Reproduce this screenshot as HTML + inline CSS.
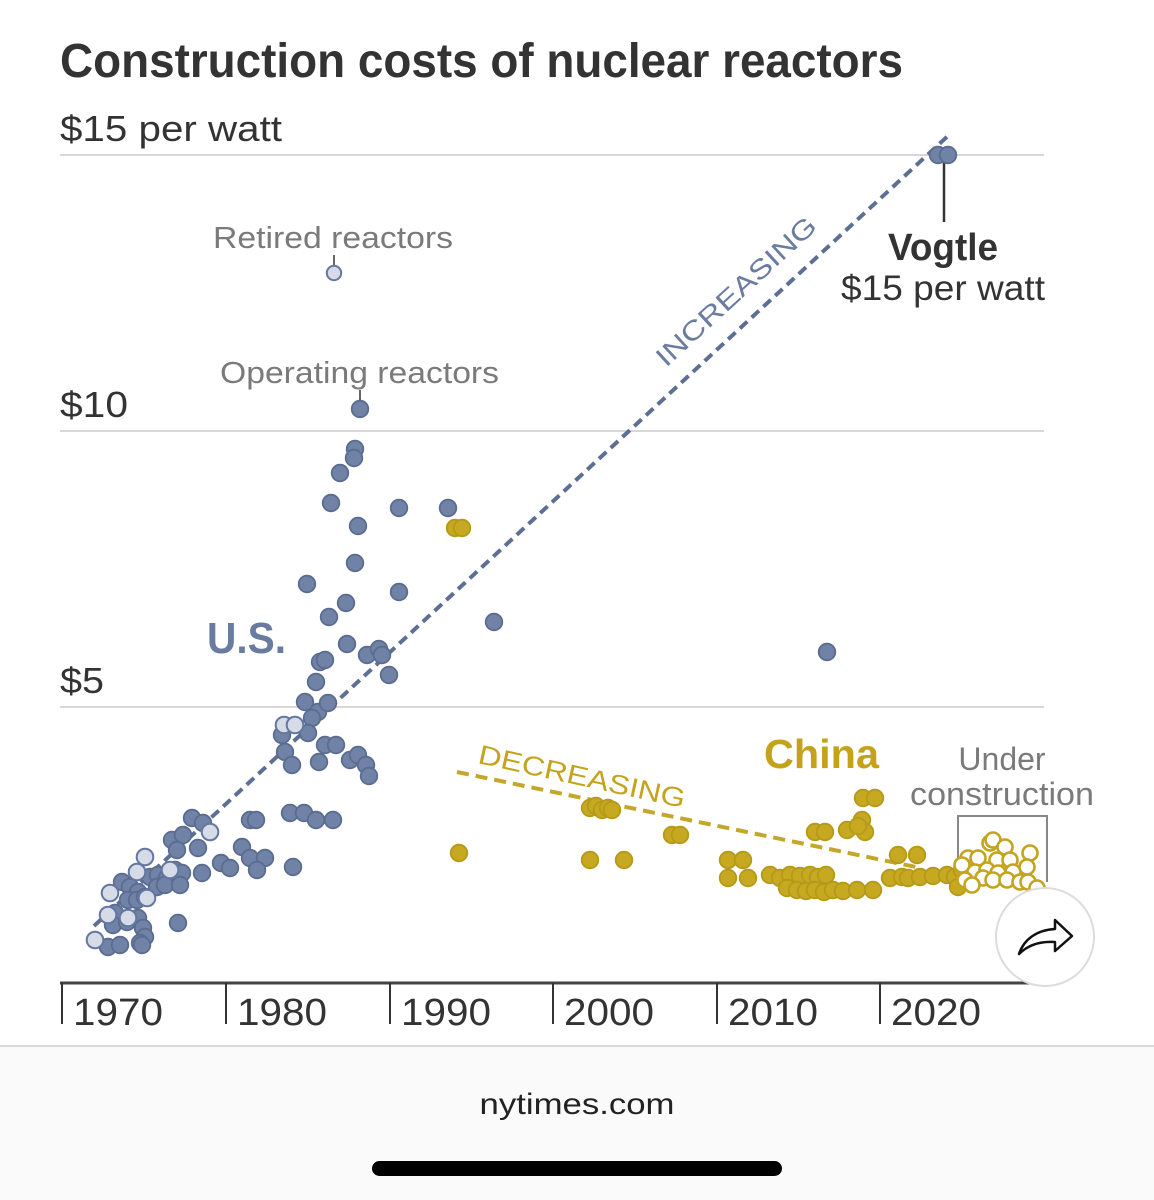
<!DOCTYPE html>
<html><head><meta charset="utf-8"><style>
html,body{margin:0;padding:0;background:#fff;}
svg{display:block;}
text{font-family:"Liberation Sans",Arial,sans-serif;}
</style></head><body>
<svg width="1154" height="1200" viewBox="0 0 1154 1200" xmlns="http://www.w3.org/2000/svg">
<rect x="0" y="0" width="1154" height="1200" fill="#fff"/>
<rect x="0" y="1046" width="1154" height="154" fill="#fafafa"/>
<line x1="0" y1="1046" x2="1154" y2="1046" stroke="#d9d9d9" stroke-width="2"/>

<text x="60" y="77" font-size="48" font-weight="bold" fill="#333" textLength="843" lengthAdjust="spacingAndGlyphs">Construction costs of nuclear reactors</text>

<g stroke="#d8d8d8" stroke-width="2">
<line x1="60" y1="155" x2="1044" y2="155"/>
<line x1="60" y1="431" x2="1044" y2="431"/>
<line x1="60" y1="707" x2="1044" y2="707"/>
</g>
<g fill="#333" font-size="36">
<text x="60" y="141" textLength="222" lengthAdjust="spacingAndGlyphs">$15 per watt</text>
<text x="60" y="417" textLength="68" lengthAdjust="spacingAndGlyphs">$10</text>
<text x="60" y="693" textLength="44" lengthAdjust="spacingAndGlyphs">$5</text>
</g>

<line x1="60" y1="983" x2="1040" y2="983" stroke="#444" stroke-width="3"/>
<g stroke="#333" stroke-width="2">
<line x1="62" y1="983" x2="62" y2="1024"/>
<line x1="226" y1="983" x2="226" y2="1024"/>
<line x1="390" y1="983" x2="390" y2="1024"/>
<line x1="553" y1="983" x2="553" y2="1024"/>
<line x1="717" y1="983" x2="717" y2="1024"/>
<line x1="880" y1="983" x2="880" y2="1024"/>
</g>
<g fill="#333" font-size="38">
<text x="73" y="1025" textLength="90" lengthAdjust="spacingAndGlyphs">1970</text>
<text x="237" y="1025" textLength="90" lengthAdjust="spacingAndGlyphs">1980</text>
<text x="401" y="1025" textLength="90" lengthAdjust="spacingAndGlyphs">1990</text>
<text x="564" y="1025" textLength="90" lengthAdjust="spacingAndGlyphs">2000</text>
<text x="728" y="1025" textLength="90" lengthAdjust="spacingAndGlyphs">2010</text>
<text x="891" y="1025" textLength="90" lengthAdjust="spacingAndGlyphs">2020</text>
</g>

<line x1="94" y1="926" x2="950" y2="134" stroke="#5e6f94" stroke-width="4" stroke-dasharray="10 6"/>
<line x1="457" y1="772" x2="916" y2="867" stroke="#c4a62a" stroke-width="4" stroke-dasharray="12 7"/>

<text transform="translate(666,368) rotate(-42.5)" font-size="27" fill="#6b7ca1" textLength="207" lengthAdjust="spacingAndGlyphs">INCREASING</text>
<text transform="translate(477,763) rotate(12.3)" font-size="27" fill="#c4a41c" textLength="211" lengthAdjust="spacingAndGlyphs">DECREASING</text>

<text x="213" y="248" font-size="31" fill="#7a7a7a" textLength="240" lengthAdjust="spacingAndGlyphs">Retired reactors</text>
<line x1="334" y1="255" x2="334" y2="266" stroke="#666" stroke-width="2"/>
<text x="220" y="383" font-size="31" fill="#7a7a7a" textLength="279" lengthAdjust="spacingAndGlyphs">Operating reactors</text>
<line x1="360" y1="390" x2="360" y2="401" stroke="#666" stroke-width="2"/>
<text x="207" y="653" font-size="44" font-weight="bold" fill="#6a7ba0" textLength="79" lengthAdjust="spacingAndGlyphs">U.S.</text>
<text x="764" y="768" font-size="41" font-weight="bold" fill="#c4a31a" textLength="115" lengthAdjust="spacingAndGlyphs">China</text>
<text x="1002" y="770" font-size="32" fill="#7a7a7a" text-anchor="middle">Under</text>
<text x="910" y="805" font-size="32" fill="#7a7a7a" textLength="184" lengthAdjust="spacingAndGlyphs">construction</text>
<path d="M958,880 V816 H1047 V882" fill="none" stroke="#888" stroke-width="2"/>

<text x="943" y="260" font-size="38" font-weight="bold" fill="#333" text-anchor="middle" textLength="110" lengthAdjust="spacingAndGlyphs">Vogtle</text>
<text x="841" y="300" font-size="35" fill="#333" textLength="204" lengthAdjust="spacingAndGlyphs">$15 per watt</text>
<line x1="944" y1="160" x2="944" y2="222" stroke="#333" stroke-width="2.5"/>

<g fill="#7082a6" stroke="#5b6c91" stroke-width="1.8">
<circle cx="938" cy="155" r="8.3"/><circle cx="948" cy="155" r="8.3"/>
<circle cx="360" cy="409" r="8.3"/>
<circle cx="355" cy="449" r="8.3"/><circle cx="354" cy="458" r="8.3"/><circle cx="340" cy="473" r="8.3"/>
<circle cx="331" cy="503" r="8.3"/><circle cx="399" cy="508" r="8.3"/><circle cx="448" cy="508" r="8.3"/>
<circle cx="358" cy="526" r="8.3"/><circle cx="355" cy="563" r="8.3"/><circle cx="307" cy="584" r="8.3"/>
<circle cx="399" cy="592" r="8.3"/><circle cx="346" cy="603" r="8.3"/><circle cx="329" cy="617" r="8.3"/>
<circle cx="494" cy="622" r="8.3"/><circle cx="347" cy="644" r="8.3"/><circle cx="320" cy="662" r="8.3"/>
<circle cx="325" cy="660" r="8.3"/><circle cx="367" cy="655" r="8.3"/><circle cx="379" cy="649" r="8.3"/>
<circle cx="382" cy="655" r="8.3"/><circle cx="389" cy="675" r="8.3"/><circle cx="316" cy="682" r="8.3"/>
<circle cx="827" cy="652" r="8.3"/>
<circle cx="305" cy="702" r="8.3"/><circle cx="318" cy="712" r="8.3"/><circle cx="328" cy="703" r="8.3"/>
<circle cx="312" cy="718" r="8.3"/><circle cx="282" cy="735" r="8.3"/><circle cx="308" cy="733" r="8.3"/>
<circle cx="285" cy="752" r="8.3"/><circle cx="292" cy="765" r="8.3"/><circle cx="319" cy="762" r="8.3"/>
<circle cx="325" cy="745" r="8.3"/><circle cx="336" cy="745" r="8.3"/><circle cx="350" cy="760" r="8.3"/>
<circle cx="358" cy="755" r="8.3"/><circle cx="366" cy="765" r="8.3"/><circle cx="369" cy="776" r="8.3"/>
<circle cx="250" cy="820" r="8.3"/><circle cx="256" cy="820" r="8.3"/><circle cx="290" cy="813" r="8.3"/>
<circle cx="304" cy="813" r="8.3"/><circle cx="316" cy="820" r="8.3"/><circle cx="333" cy="820" r="8.3"/>
<circle cx="192" cy="818" r="8.3"/><circle cx="203" cy="823" r="8.3"/>
<circle cx="172" cy="840" r="8.3"/><circle cx="183" cy="835" r="8.3"/><circle cx="177" cy="850" r="8.3"/>
<circle cx="198" cy="848" r="8.3"/><circle cx="242" cy="847" r="8.3"/><circle cx="221" cy="863" r="8.3"/>
<circle cx="230" cy="868" r="8.3"/><circle cx="250" cy="858" r="8.3"/><circle cx="265" cy="858" r="8.3"/>
<circle cx="257" cy="870" r="8.3"/><circle cx="293" cy="867" r="8.3"/>
<circle cx="150" cy="877" r="8.3"/><circle cx="158" cy="875" r="8.3"/><circle cx="167" cy="878" r="8.3"/>
<circle cx="157" cy="887" r="8.3"/><circle cx="165" cy="885" r="8.3"/><circle cx="175" cy="870" r="8.3"/>
<circle cx="182" cy="873" r="8.3"/><circle cx="180" cy="885" r="8.3"/><circle cx="202" cy="873" r="8.3"/>
<circle cx="122" cy="882" r="8.3"/><circle cx="130" cy="887" r="8.3"/><circle cx="138" cy="892" r="8.3"/>
<circle cx="128" cy="900" r="8.3"/><circle cx="137" cy="900" r="8.3"/><circle cx="145" cy="897" r="8.3"/>
<circle cx="115" cy="913" r="8.3"/><circle cx="113" cy="925" r="8.3"/><circle cx="127" cy="922" r="8.3"/>
<circle cx="138" cy="918" r="8.3"/><circle cx="143" cy="928" r="8.3"/><circle cx="145" cy="937" r="8.3"/>
<circle cx="140" cy="943" r="8.3"/><circle cx="178" cy="923" r="8.3"/><circle cx="108" cy="947" r="8.3"/>
<circle cx="120" cy="945" r="8.3"/><circle cx="142" cy="945" r="8.3"/>
</g>
<g fill="#d5dbe7" stroke="#6577a0" stroke-width="2">
<circle cx="334" cy="273" r="7.2"/>
<circle cx="284" cy="725" r="8.3"/><circle cx="295" cy="725" r="8.3"/><circle cx="210" cy="832" r="8.3"/>
<circle cx="145" cy="857" r="8.3"/><circle cx="137" cy="872" r="8.3"/><circle cx="170" cy="870" r="8.3"/>
<circle cx="110" cy="893" r="8.3"/><circle cx="147" cy="898" r="8.3"/><circle cx="108" cy="915" r="8.3"/>
<circle cx="128" cy="918" r="8.3"/><circle cx="95" cy="940" r="8.3"/>
</g>

<g fill="#c6a821" stroke="#b59a19" stroke-width="1.8">
<circle cx="455" cy="528" r="8.3"/><circle cx="462" cy="528" r="8.3"/><circle cx="459" cy="853" r="8.3"/>
<circle cx="590" cy="808" r="8.3"/><circle cx="596" cy="806" r="8.3"/><circle cx="602" cy="810" r="8.3"/>
<circle cx="608" cy="808" r="8.3"/><circle cx="612" cy="810" r="8.3"/><circle cx="590" cy="860" r="8.3"/>
<circle cx="624" cy="860" r="8.3"/><circle cx="672" cy="835" r="8.3"/><circle cx="680" cy="835" r="8.3"/>
<circle cx="728" cy="860" r="8.3"/><circle cx="743" cy="860" r="8.3"/><circle cx="728" cy="878" r="8.3"/>
<circle cx="748" cy="878" r="8.3"/>
<circle cx="770" cy="875" r="8.3"/><circle cx="780" cy="878" r="8.3"/><circle cx="790" cy="875" r="8.3"/>
<circle cx="800" cy="876" r="8.3"/><circle cx="810" cy="875" r="8.3"/><circle cx="818" cy="877" r="8.3"/>
<circle cx="826" cy="875" r="8.3"/>
<circle cx="787" cy="888" r="8.3"/><circle cx="797" cy="890" r="8.3"/><circle cx="806" cy="891" r="8.3"/>
<circle cx="815" cy="890" r="8.3"/><circle cx="824" cy="892" r="8.3"/><circle cx="833" cy="890" r="8.3"/>
<circle cx="843" cy="891" r="8.3"/><circle cx="857" cy="890" r="8.3"/><circle cx="873" cy="890" r="8.3"/>
<circle cx="815" cy="832" r="8.3"/><circle cx="825" cy="832" r="8.3"/><circle cx="847" cy="830" r="8.3"/>
<circle cx="862" cy="820" r="8.3"/><circle cx="865" cy="832" r="8.3"/><circle cx="858" cy="826" r="8.3"/>
<circle cx="863" cy="798" r="8.3"/><circle cx="875" cy="798" r="8.3"/>
<circle cx="898" cy="855" r="8.3"/><circle cx="917" cy="855" r="8.3"/>
<circle cx="890" cy="878" r="8.3"/><circle cx="902" cy="877" r="8.3"/><circle cx="908" cy="878" r="8.3"/>
<circle cx="920" cy="877" r="8.3"/><circle cx="933" cy="876" r="8.3"/>
<circle cx="947" cy="875" r="8.3"/><circle cx="955" cy="877" r="8.3"/><circle cx="958" cy="887" r="8.3"/>
<circle cx="962" cy="870" r="8.3"/>
</g>
<g fill="#fff" stroke="#c4a41c" stroke-width="2.6">
<circle cx="990" cy="843" r="7.5"/><circle cx="993" cy="840" r="7.5"/><circle cx="1005" cy="847" r="7.5"/>
<circle cx="968" cy="858" r="7.5"/><circle cx="978" cy="858" r="7.5"/><circle cx="997" cy="860" r="7.5"/>
<circle cx="1010" cy="860" r="7.5"/><circle cx="1030" cy="853" r="7.5"/><circle cx="962" cy="865" r="7.5"/>
<circle cx="975" cy="872" r="7.5"/><circle cx="987" cy="870" r="7.5"/><circle cx="998" cy="873" r="7.5"/>
<circle cx="1013" cy="872" r="7.5"/><circle cx="1027" cy="867" r="7.5"/><circle cx="965" cy="880" r="7.5"/>
<circle cx="983" cy="878" r="7.5"/><circle cx="993" cy="880" r="7.5"/><circle cx="1007" cy="880" r="7.5"/>
<circle cx="1020" cy="882" r="7.5"/><circle cx="1028" cy="882" r="7.5"/><circle cx="972" cy="885" r="7.5"/>
<circle cx="1037" cy="888" r="7.5"/>
</g>

<circle cx="1045" cy="937" r="49" fill="#fff" stroke="#dcdcdc" stroke-width="2"/>
<path d="M1019,954 C1024,939 1037,930 1055,929 L1055,920 L1072,936 L1055,951 L1055,942 C1040,941 1028,945 1019,954 Z" fill="none" stroke="#111" stroke-width="2.5" stroke-linejoin="round"/>

<text x="577" y="1114" font-size="30" fill="#222" text-anchor="middle" textLength="195" lengthAdjust="spacingAndGlyphs">nytimes.com</text>
<rect x="372" y="1161" width="410" height="15" rx="7.5" fill="#000"/>
</svg>
</body></html>
